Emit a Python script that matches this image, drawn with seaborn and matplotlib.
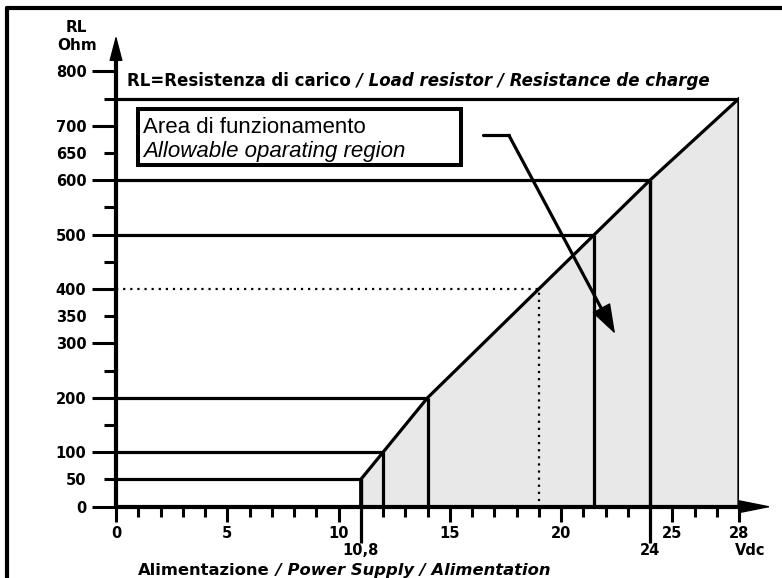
import numpy as np
import pandas as pd
import matplotlib.pyplot as plt
import seaborn as sns
from matplotlib.patches import Rectangle
from matplotlib.lines import Line2D

# Data
# knee points of the allowable region (supply voltage -> max load resistance)
supply_v = [11, 12, 14, 19, 21.5, 24, 28]
load_rl = [50, 100, 200, 400, 500, 600, 750]
# reference lines drawn solid / dotted
solid_v = [11, 12, 14, 21.5, 24, 28]
solid_rl = [50, 100, 200, 500, 600, 750]
dotted_v = 19
dotted_rl = 400
# vertical lines that run down through the tick area
long_v = [11, 24]
long_labels = ["10,8", "24"]

x_major = [0, 5, 10, 15, 20, 25, 28]
x_minor = [1, 2, 3, 4, 6, 7, 8, 9, 12, 13, 14, 16, 17, 18, 19, 21, 22, 23, 26, 27]
y_major = [0, 100, 200, 300, 400, 500, 600, 700, 800]
y_minor = [50, 150, 250, 350, 450, 550, 650, 750]
y_minor_labels = ["50", "", "", "350", "", "", "650", ""]

sns.set_style("white")
plt.rcParams['font.family'] = ['DejaVu Sans']
plt.rcParams['text.color'] = 'black'
plt.rcParams['xtick.color'] = 'black'
plt.rcParams['ytick.color'] = 'black'

W, H = 782, 578
fig = plt.figure(figsize=(W / 100, H / 100), dpi=100)
ax = fig.add_axes([116 / W, (H - 506.7) / H, (739 - 116) / W, (506.7 - 71.3) / H])
ax.set_xlim(0, 28)
ax.set_ylim(0, 800)
for s in ax.spines.values():
    s.set_visible(False)

# shaded operating area
ax.fill_between(supply_v, 0, load_rl, color="#e8e8e8", lw=0, zorder=1)

# boundary of the area
bound = pd.DataFrame({
    "V": [supply_v[0]] + supply_v + [supply_v[-1]],
    "RL": [0] + load_rl + [0],
})
sns.lineplot(data=bound, x="V", y="RL", sort=False, estimator=None,
             color="black", lw=2.3, ax=ax, zorder=3)
ax.set_xlabel("")
ax.set_ylabel("")

# reference lines
ax.hlines(solid_rl, 0, solid_v, color="black", lw=2.3, zorder=3)
ax.vlines(solid_v, 0, solid_rl, color="black", lw=2.3, zorder=3)
ax.vlines(long_v, -66, [solid_rl[solid_v.index(v)] for v in long_v],
          color="black", lw=2.3, zorder=3, clip_on=False)
ax.plot([0, dotted_v, dotted_v], [dotted_rl, dotted_rl, 0], color="black",
        lw=1.6, linestyle=(0, (1, 2.2)), zorder=3)

# axes with arrow heads (shaft drawn thick, head drawn thin so it stays sharp)
ax.plot([0, 28.3], [0, 0], color="black", lw=3, zorder=5, clip_on=False,
        solid_capstyle="butt")
ax.plot([0, 0], [0, 835], color="black", lw=3, zorder=5, clip_on=False,
        solid_capstyle="butt")
ax.annotate("", xy=(29.48, 0), xytext=(27.5, 0), annotation_clip=False,
            arrowprops=dict(arrowstyle="-|>,head_length=2.1,head_width=0.42",
                            mutation_scale=10, lw=1, color="black",
                            shrinkA=0, shrinkB=0), zorder=5)
ax.annotate("", xy=(0, 866), xytext=(0, 800), annotation_clip=False,
            arrowprops=dict(arrowstyle="-|>,head_length=1.6,head_width=0.42",
                            mutation_scale=10, lw=1, color="black",
                            shrinkA=0, shrinkB=0), zorder=5)

# ticks
ax.set_xticks(x_major)
ax.set_xticklabels([str(v) for v in x_major])
ax.set_xticks(x_minor, minor=True)
ax.set_yticks(y_major)
ax.set_yticklabels([str(v) for v in y_major])
ax.set_yticks(y_minor, minor=True)
ax.set_yticklabels(y_minor_labels, minor=True)
ax.tick_params(axis="both", which="both", direction="out", color="black",
               width=2.2, labelsize=10.5, bottom=True, left=True)
ax.tick_params(axis="x", which="major", length=11, pad=3)
ax.tick_params(axis="x", which="minor", length=7)
ax.tick_params(axis="y", which="major", length=17.3, pad=4)
ax.tick_params(axis="y", which="minor", length=8.6, pad=12.6)
for lab in ax.get_xticklabels() + ax.get_yticklabels() + ax.get_yticklabels(minor=True):
    lab.set_fontweight("bold")

for v, lab in zip(long_v, long_labels):
    ax.text(v, -81, lab, ha="center", va="center", fontsize=10.5, fontweight="bold")
ax.text(28.5, -81, "Vdc", ha="center", va="center", fontsize=10.5, fontweight="bold")

# axis titles
ax.text(-1.8, 880, "RL", ha="center", va="center", fontsize=11, fontweight="bold")
ax.text(-1.75, 848, "Ohm", ha="center", va="center", fontsize=11, fontweight="bold")

t1 = ax.text(0.5, 773, "RL=Resistenza di carico", fontsize=12, fontweight="bold",
             va="baseline")
ax.annotate(" / Load resistor / Resistance de charge", xy=(1, 0), xycoords=t1,
            va="bottom", fontsize=12, fontweight="bold", fontstyle="italic")

b1 = ax.text(0.99, -125, "Alimentazione", fontsize=11.8, fontweight="bold",
             va="baseline")
ax.annotate(" / Power Supply / Alimentation", xy=(1, 0), xycoords=b1,
            va="bottom", fontsize=11.8, fontweight="bold", fontstyle="italic")

# annotation box
ax.add_patch(Rectangle((0.99, 627.8), 15.5 - 0.99, 730.7 - 627.8, fill=False,
                       lw=2.9, edgecolor="black", clip_on=False, zorder=4))
ax.text(1.21, 687, "Area di funzionamento", fontsize=16, family="Liberation Sans",
        va="baseline")
ax.text(1.21, 643, "Allowable oparating region", fontsize=16, family="Liberation Sans",
        fontstyle="italic", va="baseline")
ax.plot([16.49, 17.66], [682.3, 682.3], color="black", lw=2.3, zorder=4)
ax.plot([17.66, 22.0], [682.3, 350.0], color="black", lw=2.3, zorder=4)
ax.annotate("", xy=(22.43, 317.8), xytext=(21.6, 381.2),
            arrowprops=dict(arrowstyle="-|>,head_length=1.6,head_width=0.55",
                            mutation_scale=12, lw=1, color="black",
                            shrinkA=0, shrinkB=0), zorder=4)

# page frame (left and top edges visible)
fy = 1 - 8 / H
fx = 7 / W
fig.add_artist(Line2D([fx, fx], [-0.01, fy], transform=fig.transFigure, color="black", lw=3))
fig.add_artist(Line2D([fx, 1.01], [fy, fy], transform=fig.transFigure, color="black", lw=3))

fig.savefig("out.png", dpi=100)
